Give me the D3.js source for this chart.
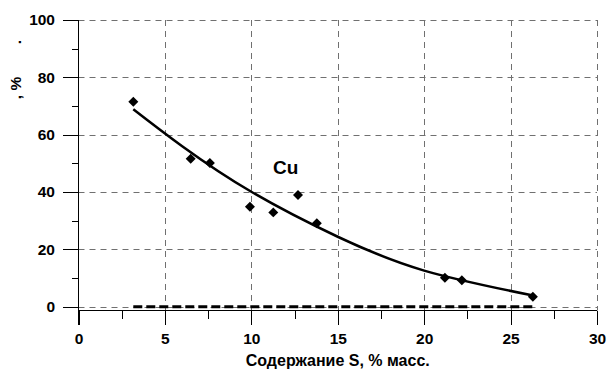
<!DOCTYPE html>
<html>
<head>
<meta charset="utf-8">
<script src="https://cdn.jsdelivr.net/npm/d3@7"></script>
<style>
  body { margin: 0; background: #fff; }
  text { font-family: "Liberation Sans", Arial, sans-serif; font-weight: bold; }
</style>
</head>
<body>
<div id="chart"></div>
<script>
// measured points (S content, % vs extraction, %)
const sulfur = [3.17, 6.49, 7.6, 9.92, 11.27, 12.7, 13.79, 21.2, 22.18, 26.29];
const cuValues = [71.5, 51.6, 50.1, 34.9, 32.9, 39.0, 29.1, 10.1, 9.2, 3.5];

// trend line
const trendX = [3.17, 6, 10, 15, 20, 26.3];
const trendY = [68.9, 56.0, 40.1, 24.4, 12.6, 3.9];

// second series, flat at zero
const zeroX = [3.17, 26.29];
const zeroY = [0, 0];

const xTicks = [0, 5, 10, 15, 20, 25, 30];
const xMinor = [2.5, 7.5, 12.5, 17.5, 22.5, 27.5];
const yTicks = [0, 20, 40, 60, 80, 100];
const yMinor = [10, 30, 50, 70, 90];

const width = 607, height = 370;

const svg = d3.select("#chart").append("svg")
  .attr("width", width)
  .attr("height", height);

const x = d3.scaleLinear().domain([0, 30]).range([78.5, 597]);
const y = d3.scaleLinear().domain([0, 100]).range([306.7, 20]);

const axisY = 310.5;   // x axis sits a bit under zero
const bottom = 325;

// grid
svg.append("g").selectAll("line")
  .data(yTicks)
  .enter().append("line")
  .attr("x1", x(0)).attr("x2", x(30))
  .attr("y1", d => Math.round(y(d)) + 0.5).attr("y2", d => Math.round(y(d)) + 0.5)
  .attr("stroke", "#707070").attr("stroke-width", 1)
  .attr("stroke-dasharray", "6,5");

svg.append("g").selectAll("line")
  .data(xTicks.slice(1))
  .enter().append("line")
  .attr("x1", d => Math.round(x(d)) + 0.5).attr("x2", d => Math.round(x(d)) + 0.5)
  .attr("y1", y(100)).attr("y2", axisY)
  .attr("stroke", "#707070").attr("stroke-width", 1)
  .attr("stroke-dasharray", "6,5");

// axes
const gx = svg.append("g").attr("transform", "translate(0," + axisY + ")");
gx.call(d3.axisBottom(x).tickValues(xTicks).tickSize(bottom - axisY).tickPadding(8).tickFormat(d3.format("d")));
gx.append("g").call(d3.axisBottom(x).tickValues(xMinor).tickSize(8).tickFormat(""));
gx.selectAll(".domain").remove();
gx.selectAll("line").attr("stroke", "#000").attr("shape-rendering", "crispEdges");
gx.selectAll("text").attr("font-size", 15.5).attr("fill", "#000")
  .style("font-family", "'Liberation Sans', Arial, sans-serif").style("font-weight", "bold");

const gy = svg.append("g").attr("transform", "translate(" + x(0) + ",0)");
gy.call(d3.axisLeft(y).tickValues(yTicks).tickSize(15.5).tickPadding(8).tickFormat(d3.format("d")));
gy.append("g").call(d3.axisLeft(y).tickValues(yMinor).tickSize(6.5).tickFormat(""));
gy.selectAll(".domain").remove();
gy.selectAll("line").attr("stroke", "#000").attr("shape-rendering", "crispEdges");
gy.selectAll("text").attr("font-size", 15.5).attr("fill", "#000")
  .style("font-family", "'Liberation Sans', Arial, sans-serif").style("font-weight", "bold");

svg.append("line")
  .attr("x1", x(0)).attr("x2", x(30))
  .attr("y1", axisY).attr("y2", axisY)
  .attr("stroke", "#000").attr("shape-rendering", "crispEdges");
svg.append("line")
  .attr("x1", x(0)).attr("x2", x(0))
  .attr("y1", y(100)).attr("y2", bottom)
  .attr("stroke", "#000").attr("shape-rendering", "crispEdges");

// zero series
const line = d3.line().x(d => x(d[0])).y(d => y(d[1]));
svg.append("path")
  .datum(d3.zip(zeroX, zeroY))
  .attr("d", line)
  .attr("fill", "none")
  .attr("stroke", "#000").attr("stroke-width", 3)
  .attr("stroke-dasharray", "9,4");

// trend
svg.append("path")
  .datum(d3.zip(trendX, trendY))
  .attr("d", d3.line().x(d => x(d[0])).y(d => y(d[1])).curve(d3.curveNatural))
  .attr("fill", "none")
  .attr("stroke", "#000").attr("stroke-width", 2.5);

// points
svg.append("g").selectAll("path")
  .data(d3.zip(sulfur, cuValues))
  .enter().append("path")
  .attr("d", d3.symbol(d3.symbolSquare, 50))
  .attr("transform", d => "translate(" + x(d[0]) + "," + y(d[1]) + ") rotate(45)")
  .attr("fill", "#000");

svg.append("text")
  .attr("x", 273).attr("y", 174)
  .attr("font-size", 19)
  .text("Cu");

// axis titles
svg.append("text")
  .attr("x", x(15)).attr("y", 366)
  .attr("text-anchor", "middle")
  .attr("font-size", 16)
  .text("Содержание S, % масс.");

const ty = svg.append("g").attr("transform", "translate(21,0) rotate(-90)");
ty.append("text").attr("x", -88).attr("y", 0)
  .attr("text-anchor", "middle").attr("font-size", 15.5).text(", %");
ty.append("text").attr("x", -42).attr("y", 0)
  .attr("text-anchor", "middle").attr("font-size", 15.5).text(".");
</script>
</body>
</html>
